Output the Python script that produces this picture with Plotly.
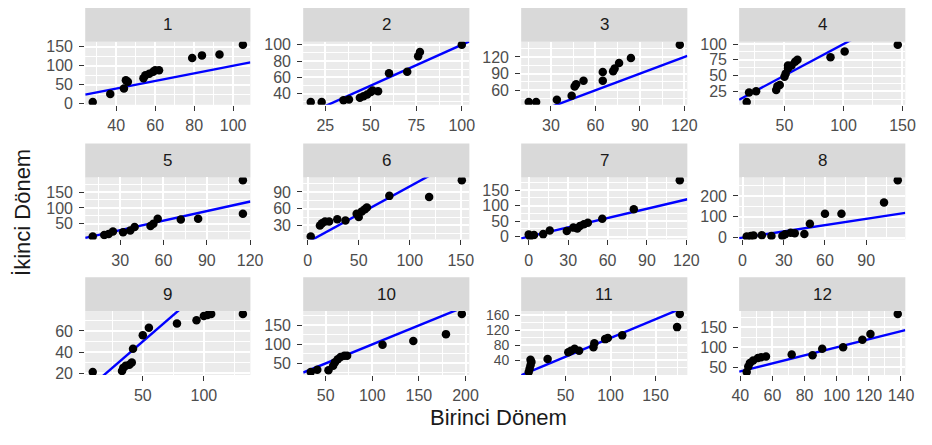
import plotly.graph_objects as go

# Birinci Dönem (x) and İkinci Dönem (y) values for each of the 12 groups
x1 = [28, 37, 44, 45, 46, 54, 55, 57, 59, 60, 62, 79, 84, 93, 105]
y1 = [5, 26, 40, 62, 58, 67, 75, 79, 84, 88, 88, 120, 127, 129, 155]
x2 = [17, 23, 35, 38, 44, 46, 48, 50, 51, 54, 60, 70, 76, 77, 100]
y2 = [30, 30, 32, 33, 35, 37, 39, 42, 44, 43, 65, 67, 86, 91, 100]
x3 = [15, 20, 34, 44, 46, 47, 52, 65, 65, 72, 73, 76, 84, 117]
y3 = [39, 39, 43, 50, 67, 71, 77, 77, 93, 94, 99, 109, 118, 142]
x4 = [18, 20, 26, 43, 44, 46, 50, 51, 53, 53, 56, 59, 61, 89, 101, 146]
y4 = [8, 23, 25, 27, 33, 35, 48, 53, 61, 66, 66, 72, 75, 79, 88, 99]
x5 = [11, 19, 22, 25, 32, 37, 40, 51, 53, 56, 72, 84, 115, 115]
y5 = [10, 15, 18, 26, 24, 29, 40, 43, 50, 66, 64, 66, 187, 82]
x6 = [3, 12, 14, 17, 21, 29, 37, 48, 50, 53, 56, 58, 80, 119, 151]
y6 = [10, 30, 34, 37, 37, 41, 39, 51, 45, 55, 59, 62, 83, 81, 111]
x7 = [0, 1, 4, 11, 16, 29, 34, 37, 39, 42, 45, 56, 80, 115]
y7 = [7, 0, 5, 8, 20, 18, 29, 26, 34, 40, 45, 58, 88, 182]
x8 = [3, 6, 8, 14, 21, 29, 31, 35, 38, 45, 49, 60, 72, 103, 113]
y8 = [5, 8, 10, 12, 8, 8, 16, 24, 21, 18, 67, 115, 115, 168, 275]
x9 = [9, 33, 34, 36, 39, 41, 42, 50, 55, 78, 94, 100, 103, 106, 132]
y9 = [21, 22, 25, 27, 28, 30, 43, 56, 63, 67, 70, 74, 75, 76, 76]
x10 = [34, 41, 53, 58, 60, 63, 66, 70, 73, 111, 144, 179, 196]
y10 = [27, 33, 32, 44, 53, 61, 67, 70, 70, 99, 109, 127, 180]
x11 = [9, 10, 11, 12, 11, 30, 53, 56, 60, 65, 81, 82, 94, 97, 113, 174, 177]
y11 = [9, 18, 27, 36, 42, 44, 62, 66, 71, 66, 75, 86, 97, 100, 107, 129, 164]
x12 = [44, 45, 46, 48, 51, 53, 56, 72, 85, 91, 104, 116, 121, 138]
y12 = [38, 52, 61, 67, 73, 75, 77, 82, 80, 96, 100, 119, 133, 183]

groups = ["1", "2", "3", "4", "5", "6", "7", "8", "9", "10", "11", "12"]
xs = [x1, x2, x3, x4, x5, x6, x7, x8, x9, x10, x11, x12]
ys = [y1, y2, y3, y4, y5, y6, y7, y8, y9, y10, y11, y12]

# major tick spacing per panel (x, y)
x_dtick = [20, 25, 30, 50, 30, 50, 30, 30, 50, 50, 50, 20]
y_dtick = [50, 20, 30, 25, 50, 30, 50, 100, 20, 50, 40, 50]

W, H = 932, 445
col_px = [(79, 248), (302, 472), (525, 695), (748, 918)]
row_px = [(37, 102), (177, 241), (315, 381)]
strip_h = 35

fig = go.Figure()
shapes = []
annotations = []

FONT = "Liberation Sans, Arial, sans-serif"


def expand(v):
    lo, hi = min(v), max(v)
    pad = 0.05 * (hi - lo)
    return [lo - pad, hi + pad]


for i, (g, xv, yv) in enumerate(zip(groups, xs, ys)):
    r, c = divmod(i, 4)
    n = i + 1
    xa = "x" if n == 1 else f"x{n}"
    ya = "y" if n == 1 else f"y{n}"
    xr = expand(xv)
    yr = expand(yv)

    # identity reference line y = x
    fig.add_trace(go.Scatter(x=xr, y=xr, mode="lines",
                             line=dict(color="#0000ff", width=2.4),
                             xaxis=xa, yaxis=ya, showlegend=False,
                             hoverinfo="skip"))
    fig.add_trace(go.Scatter(x=xv, y=yv, mode="markers",
                             marker=dict(color="black", size=8.5),
                             xaxis=xa, yaxis=ya, showlegend=False))

    x0, x1p = col_px[c]
    top, bot = row_px[r]
    xdom = [x0 / W, x1p / W]
    ydom = [1 - bot / H, 1 - top / H]

    # pixel gap between y labels; very tight panels get a smaller font
    gap_px = y_dtick[i] / (yr[1] - yr[0]) * (bot - top)
    y_tick_size = 14 if gap_px < 15.7 else 16

    common = dict(showgrid=True, gridcolor="white", gridwidth=1.5,
                  zeroline=False, ticks="outside", ticklen=5,
                  tickcolor="#333333", tickwidth=1.2, showline=False)
    fig.update_layout(**{
        ("xaxis" if n == 1 else f"xaxis{n}"): dict(
            domain=xdom, range=xr, anchor=ya, tick0=0, dtick=x_dtick[i],
            ticklabelstandoff=1,
            tickfont=dict(family=FONT, size=16, color="#4d4d4d"),
            minor=dict(dtick=x_dtick[i] / 2, tick0=0, showgrid=True,
                       gridcolor="white", gridwidth=0.7, ticklen=0),
            **common),
        ("yaxis" if n == 1 else f"yaxis{n}"): dict(
            domain=ydom, range=yr, anchor=xa, tick0=0, dtick=y_dtick[i],
            ticklabelstandoff=3,
            tickfont=dict(family=FONT, size=y_tick_size, color="#4d4d4d"),
            minor=dict(dtick=y_dtick[i] / 2, tick0=0, showgrid=True,
                       gridcolor="white", gridwidth=0.7, ticklen=0),
            **common),
    })

    # facet strip
    shapes.append(dict(type="rect", xref="paper", yref="paper",
                       x0=xdom[0], x1=xdom[1],
                       y0=ydom[1], y1=1 - (top - strip_h) / H,
                       fillcolor="#d9d9d9", line=dict(width=0), layer="below"))
    annotations.append(dict(text=g, xref="paper", yref="paper",
                            x=(xdom[0] + xdom[1]) / 2,
                            y=1 - (top - strip_h / 2) / H,
                            showarrow=False, xanchor="center", yanchor="middle",
                            font=dict(family=FONT, size=17, color="#1a1a1a")))

title_font = dict(family=FONT, size=22, color="#1a1a1a")
annotations.append(dict(text="Birinci Dönem", xref="paper", yref="paper",
                        x=502 / W, y=1 - 425 / H, showarrow=False,
                        xanchor="center", yanchor="middle", font=title_font))
annotations.append(dict(text="İkinci Dönem", xref="paper", yref="paper",
                        x=15 / W, y=1 - 213 / H, showarrow=False, textangle=-90,
                        xanchor="center", yanchor="middle", font=title_font))

fig.update_layout(width=W, height=H, margin=dict(l=0, r=0, t=0, b=0),
                  paper_bgcolor="white", plot_bgcolor="#ebebeb",
                  shapes=shapes, annotations=annotations, showlegend=False)

fig.write_html("out.html")
